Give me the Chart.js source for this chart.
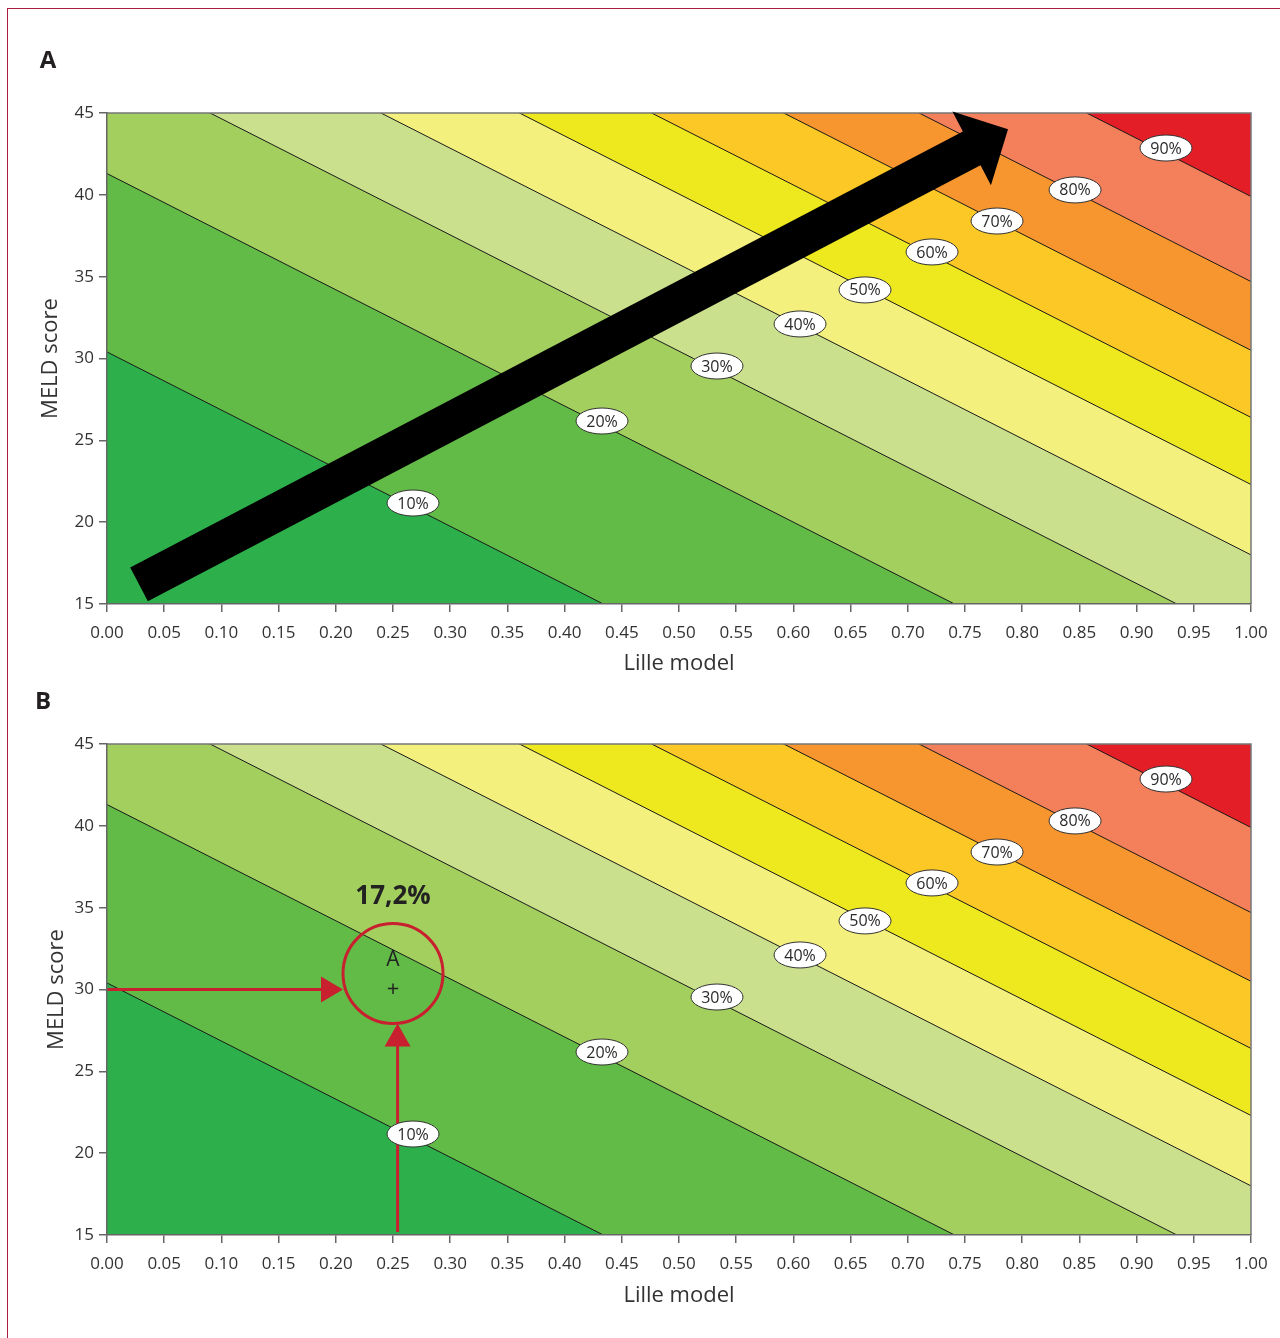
<!DOCTYPE html>
<html>
<head>
<meta charset="utf-8">
<script src="https://cdn.jsdelivr.net/npm/chart.js@4.4.1/dist/chart.umd.min.js"></script>
<style>
body{margin:0;background:#fff;width:1280px;height:1338px;overflow:hidden;position:relative}
#frame{position:absolute;left:7px;top:8px;width:1400px;height:1400px;border-left:1.5px solid #b01a40;border-top:1.5px solid #b01a40}
canvas{position:absolute;left:0}
#chartA{top:0}
#chartB{top:631px}
</style>
</head>
<body>
<div id="frame"></div>
<canvas id="chartA" width="1280" height="690"></canvas>
<canvas id="chartB" width="1280" height="690"></canvas>
<script>
// contour levels, MELD value where each line meets Lille = 0, and common slope
var levels = ['10%','20%','30%','40%','50%','60%','70%','80%','90%'];
var intercepts = [30.4, 41.3, 48.2, 53.5, 57.8, 61.9, 66.0, 70.2, 75.4];
var slope = -35.5;
// where each line label sits (Lille, MELD)
var labelX = [0.2675, 0.4327, 0.5332, 0.6058, 0.6626, 0.7212, 0.7780, 0.8462, 0.9257];
var labelY = [21.17, 26.18, 29.54, 32.11, 34.19, 36.51, 38.40, 40.30, 42.86];
var bandColors = ['#2db04b','#62bb46','#a3cf5f','#cbe08d','#f3f07e','#eee81e','#fbc826','#f7962e','#f37f5b','#e31e26'];

// panel A arrow (Lille, MELD)
var arrowTail = {x:0.028, y:16.2};
var arrowTip = {x:0.7876, y:44.0};
// panel B example patient
var pointA = {x:0.25, y:30};
var pointARisk = '17,2%';
var vArrowX = 0.254;

var FONT = '"Open Sans", sans-serif';
var red = '#c8202f';

function lineY(i, x){ return intercepts[i] + slope*x; }

function arrow(ctx, x0, y0, x1, y1, bw, hw, hl){
    var dx = x1-x0, dy = y1-y0, len = Math.hypot(dx,dy);
    var ux = dx/len, uy = dy/len, nx = -uy, ny = ux;
    var bx = x1-ux*hl, by = y1-uy*hl;
    ctx.beginPath();
    ctx.moveTo(x0+nx*bw/2, y0+ny*bw/2);
    ctx.lineTo(bx+nx*bw/2, by+ny*bw/2);
    ctx.lineTo(bx+nx*hw/2, by+ny*hw/2);
    ctx.lineTo(x1, y1);
    ctx.lineTo(bx-nx*hw/2, by-ny*hw/2);
    ctx.lineTo(bx-nx*bw/2, by-ny*bw/2);
    ctx.lineTo(x0-nx*bw/2, y0-ny*bw/2);
    ctx.closePath();
    ctx.fill();
}

var contourPlugin = {
    id: 'contour',
    beforeDatasetsDraw: function(chart){
        var a = chart.chartArea, ctx = chart.ctx;
        ctx.save();
        ctx.fillStyle = bandColors[0];
        ctx.fillRect(a.left, a.top, a.right-a.left, a.bottom-a.top);
        ctx.restore();
    },
    afterDatasetsDraw: function(chart){
        var ctx = chart.ctx, xs = chart.scales.x, ys = chart.scales.y, a = chart.chartArea;
        var opt = chart.options.plugins.contour;
        ctx.save();
        ctx.strokeStyle = '#777';
        ctx.lineWidth = 1.5;
        ctx.beginPath();
        ctx.moveTo(a.left, a.top); ctx.lineTo(a.right, a.top); ctx.lineTo(a.right, a.bottom);
        ctx.stroke();

        if (opt.panel == 'A') {
            ctx.fillStyle = '#000';
            arrow(ctx, xs.getPixelForValue(arrowTail.x), ys.getPixelForValue(arrowTail.y),
                xs.getPixelForValue(arrowTip.x), ys.getPixelForValue(arrowTip.y), 38, 83, 41);
        } else {
            var px = xs.getPixelForValue(pointA.x), py = ys.getPixelForValue(pointA.y);
            var cx = px, cy = py-16, r = 50;
            ctx.strokeStyle = red;
            ctx.fillStyle = red;
            ctx.lineWidth = 3;
            ctx.beginPath(); ctx.arc(cx, cy, r, 0, Math.PI*2); ctx.stroke();
            // horizontal arrow from MELD axis
            ctx.beginPath(); ctx.moveTo(a.left, py); ctx.lineTo(cx-r-18, py); ctx.stroke();
            ctx.beginPath(); ctx.moveTo(cx-r, py); ctx.lineTo(cx-r-22, py-13); ctx.lineTo(cx-r-22, py+13); ctx.closePath(); ctx.fill();
            // vertical arrow from Lille axis
            var vx = xs.getPixelForValue(vArrowX);
            ctx.beginPath(); ctx.moveTo(vx, a.bottom-3); ctx.lineTo(vx, cy+r+20); ctx.stroke();
            ctx.beginPath(); ctx.moveTo(vx, cy+r); ctx.lineTo(vx-13, cy+r+23); ctx.lineTo(vx+13, cy+r+23); ctx.closePath(); ctx.fill();
            ctx.fillStyle = '#222';
            ctx.textAlign = 'center';
            ctx.textBaseline = 'middle';
            ctx.font = '21px ' + FONT;
            ctx.fillText('A', cx, py-29);
            ctx.font = '22px ' + FONT;
            ctx.fillText('+', px, py);
            ctx.font = 'bold 26px ' + FONT;
            ctx.fillText(pointARisk, cx, py-93);
        }

        // contour labels
        ctx.font = '16px ' + FONT;
        ctx.textAlign = 'center';
        ctx.textBaseline = 'middle';
        ctx.lineWidth = 1;
        for (var i = 0; i < levels.length; i++) {
            var lx = xs.getPixelForValue(labelX[i]);
            var ly = ys.getPixelForValue(labelY[i]);
            ctx.beginPath();
            ctx.ellipse(lx, ly, 26, 13, 0, 0, Math.PI*2);
            ctx.fillStyle = '#fff';
            ctx.fill();
            ctx.strokeStyle = '#333';
            ctx.stroke();
            ctx.fillStyle = '#2a2a2a';
            ctx.fillText(levels[i], lx, ly+1);
        }

        // panel letter
        ctx.fillStyle = '#231f20';
        ctx.font = 'bold 24px ' + FONT;
        ctx.textAlign = 'center';
        ctx.fillText(opt.panel, opt.letterX, opt.letterY);
        ctx.restore();
    }
};

function makeChart(id, panel, yTitlePad, xTitlePad, letterX, letterY){
    var datasets = [];
    for (var i = levels.length-1; i >= 0; i--) {
        datasets.push({
            label: levels[i],
            data: [{x:-0.5, y:lineY(i,-0.5)}, {x:1.5, y:lineY(i,1.5)}],
            borderColor: '#1a1a1a',
            borderWidth: 1,
            pointRadius: 0,
            tension: 0,
            fill: 'end',
            backgroundColor: bandColors[i+1]
        });
    }
    return new Chart(document.getElementById(id).getContext('2d'), {
        type: 'line',
        data: {datasets: datasets},
        plugins: [contourPlugin],
        options: {
            responsive: false,
            animation: false,
            layout: {padding: {left:0, top:113, right:29, bottom:0}},
            plugins: {
                legend: {display:false},
                tooltip: {enabled:false},
                contour: {panel:panel, letterX:letterX, letterY:letterY}
            },
            scales: {
                x: {
                    type: 'linear', min: 0, max: 1,
                    ticks: {stepSize:0.05, autoSkip:false, maxRotation:0, color:'#333', padding:11,
                        font:{family:FONT, size:17},
                        callback: function(v){ return v.toFixed(2); }},
                    grid: {drawOnChartArea:false, drawTicks:true, tickLength:8, color:'#666', lineWidth:1.5},
                    border: {display:true, color:'#666', width:1.5, z:1},
                    title: {display:true, text:'Lille model', color:'#333', font:{family:FONT, size:22},
                        padding:{top:0, bottom:xTitlePad}},
                    afterFit: function(s){ s.height = 86; }
                },
                y: {
                    type: 'linear', min: 15, max: 45,
                    ticks: {stepSize:5, color:'#333', padding:5, font:{family:FONT, size:17}},
                    grid: {drawOnChartArea:false, drawTicks:true, tickLength:8, color:'#666', lineWidth:1.5},
                    border: {display:true, color:'#666', width:1.5, z:1},
                    title: {display:true, text:'MELD score', color:'#333', font:{family:FONT, size:22},
                        padding:{top:yTitlePad, bottom:0}},
                    afterFit: function(s){ s.width = 107; }
                }
            }
        }
    });
}

makeChart('chartA', 'A', 38, 13, 48, 61);
makeChart('chartB', 'B', 44, 12, 43, 71);
</script>
</body>
</html>
